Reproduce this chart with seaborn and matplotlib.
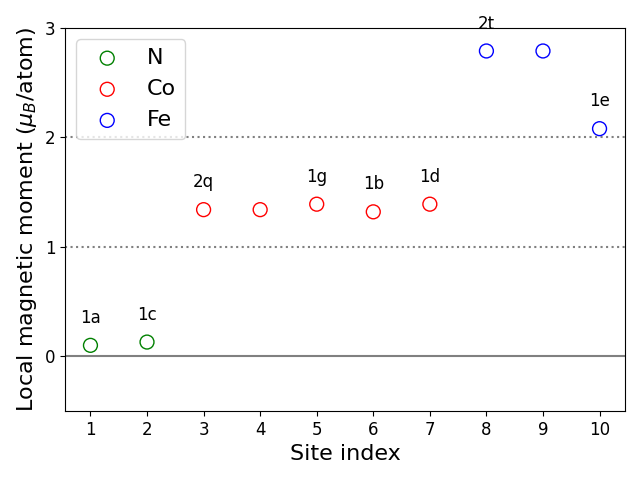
import matplotlib
matplotlib.use("Agg")
import matplotlib.pyplot as plt
import seaborn as sns
import pandas as pd

sites = [1, 2, 3, 4, 5, 6, 7, 8, 9, 10]
moments = [0.10, 0.13, 1.34, 1.34, 1.39, 1.32, 1.39, 2.79, 2.79, 2.08]
elements = ["N", "N", "Co", "Co", "Co", "Co", "Co", "Fe", "Fe", "Fe"]
element_order = ["N", "Co", "Fe"]
element_colors = ["green", "red", "blue"]
label_sites = [1, 2, 3, 5, 6, 7, 8, 10]
label_texts = ["1a", "1c", "2q", "1g", "1b", "1d", "2t", "1e"]

df = pd.DataFrame({"site": sites, "moment": moments, "element": elements})

fig, ax = plt.subplots(figsize=(6.4, 4.8), dpi=100)

ax.axhline(0, color="gray", lw=1.5, zorder=1)
ax.axhline(1, color="gray", lw=1.5, ls=":", zorder=1)
ax.axhline(2, color="gray", lw=1.5, ls=":", zorder=1)

for el, col in zip(element_order, element_colors):
    sub = df[df["element"] == el]
    sns.scatterplot(data=sub, x="site", y="moment", ax=ax, color=col,
                    facecolor="none", edgecolor=col, s=100, linewidth=1.0,
                    label=el, zorder=3)

for xs, t in zip(label_sites, label_texts):
    yv = moments[sites.index(xs)]
    ax.text(xs, yv + 0.25, t, ha="center", va="center", fontsize=12)

ax.set_xlim(0.55, 10.45)
ax.set_ylim(-0.5, 3)
ax.set_xticks(sites)
ax.set_yticks([0, 1, 2, 3])
ax.tick_params(labelsize=12)
ax.set_xlabel("Site index", fontsize=16)
ax.set_ylabel(r"Local magnetic moment ($\mu_B$/atom)", fontsize=16)
ax.legend(loc="upper left", fontsize=16)

fig.subplots_adjust(left=65/640, right=625/640, top=1-28/480, bottom=1-411/480)
fig.savefig("out.png", dpi=100)
